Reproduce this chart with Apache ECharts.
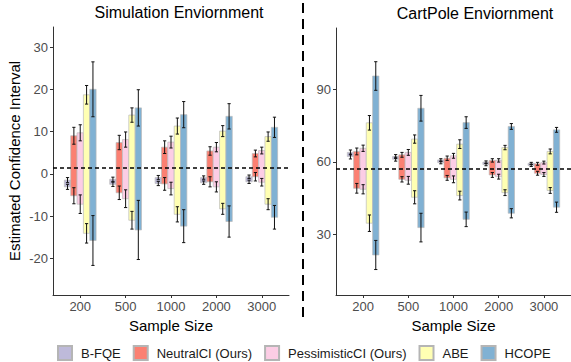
<!DOCTYPE html>
<html><head><meta charset="utf-8">
<script src="https://cdn.jsdelivr.net/npm/echarts@6/dist/echarts.min.js"></script>
<style>html,body{margin:0;padding:0;background:#fff}#c{width:571px;height:362px}</style>
</head><body><div id="c"></div>
<script>
const categories = ['200', '500', '1000', '2000', '3000'];
const methods = ['B-FQE', 'NeutralCI (Ours)', 'PessimisticCI (Ours)', 'ABE', 'HCOPE'];
const simTicks = [-20, -10, 0, 10, 20, 30];
const cartTicks = [30, 60, 90];
const simReference = 1.4;
const cartReference = 57.1;

// Each row: [lower bound, upper bound, error at lower bound, error at upper bound]
const simBFQE = [[-3.1, -1.5, 0.6, 0.6], [-2.5, -1.3, 0.5, 0.5], [-2.3, -0.9, 0.5, 0.5], [-2.1, -0.9, 0.4, 0.4], [-1.9, -0.7, 0.4, 0.4]];
const simNeutral = [[-5.2, 9.0, 1.9, 2.0], [-4.5, 7.4, 1.6, 1.7], [-2.4, 6.3, 1.5, 1.5], [-1.9, 5.4, 1.2, 1.0], [-0.7, 4.8, 1.0, 0.8]];
const simPessimistic = [[-7.2, 9.7, 2.2, 1.9], [-5.9, 8.1, 2.1, 1.8], [-3.5, 7.5, 1.5, 1.4], [-3.1, 6.3, 1.2, 1.1], [-2.0, 5.5, 0.9, 0.8]];
const simABE = [[-14.1, 18.7, 2.3, 2.2], [-11.0, 13.9, 2.1, 1.7], [-9.6, 11.3, 1.8, 1.9], [-8.3, 10.1, 1.3, 1.3], [-7.2, 8.8, 1.3, 1.1]];
const simHCOPE = [[-15.8, 20.0, 5.9, 6.5], [-13.3, 15.6, 7.0, 4.3], [-12.4, 14.0, 3.9, 3.1], [-11.3, 13.6, 3.7, 3.0], [-10.3, 11.0, 2.8, 2.4]];

const cartBFQE = [[62.2, 63.9, 1.0, 1.0], [61.1, 62.2, 0.8, 0.8], [59.7, 60.8, 0.5, 0.5], [58.9, 59.9, 0.5, 0.5], [58.5, 59.4, 0.4, 0.4]];
const cartNeutral = [[49.1, 64.3, 2.0, 1.4], [52.8, 62.9, 1.1, 1.0], [53.4, 61.5, 1.0, 0.9], [54.6, 60.6, 1.0, 0.7], [55.3, 59.2, 0.8, 0.6]];
const cartPessimistic = [[48.7, 65.6, 1.9, 1.3], [52.4, 63.9, 1.6, 1.2], [52.8, 62.5, 1.4, 1.0], [53.9, 60.6, 1.0, 0.7], [54.8, 59.7, 0.8, 0.6]];
const cartABE = [[34.7, 76.1, 3.4, 3.0], [45.4, 69.4, 2.7, 1.7], [46.1, 67.3, 1.8, 1.8], [47.3, 65.9, 1.2, 0.9], [48.2, 64.3, 1.2, 1.0]];
const cartHCOPE = [[21.6, 95.4, 6.0, 5.9], [32.9, 82.1, 5.9, 5.3], [36.3, 76.2, 3.0, 2.4], [38.8, 74.6, 1.9, 1.2], [41.3, 73.2, 2.1, 1.0]];

const colors = ['#BEBADA', '#FB8072', '#FCCDE5', '#FFFFB3', '#80B1D3'];
const FONT = 'Liberation Sans, Arial, sans-serif';

function renderFor(k) {
  return function (params, api) {
    const x = api.value(0), lo = api.value(1), hi = api.value(2), el = api.value(3), eh = api.value(4);
    const unit = api.size([1, 0])[0];
    const w = unit * 0.7 / 5;
    const base = api.coord([x, lo]);
    const cx = base[0] + (k - 2) * w;
    const yLo = base[1], yHi = api.coord([x, hi])[1];
    const cap = 1.6;
    const children = [{
      type: 'rect',
      shape: { x: cx - w / 2, y: yHi, width: w, height: yLo - yHi },
      style: { fill: api.visual('color'), stroke: 'rgba(185,185,185,0.85)', lineWidth: 0.8 }
    }];
    [[lo, el], [hi, eh]].forEach(function (p) {
      const a = api.coord([x, p[0] - p[1]])[1], b = api.coord([x, p[0] + p[1]])[1];
      const st = { stroke: '#111', lineWidth: 1 };
      children.push({ type: 'line', shape: { x1: cx, y1: a, x2: cx, y2: b }, style: st });
      children.push({ type: 'line', shape: { x1: cx - cap, y1: a, x2: cx + cap, y2: a }, style: st });
      children.push({ type: 'line', shape: { x1: cx - cap, y1: b, x2: cx + cap, y2: b }, style: st });
    });
    return { type: 'group', children: children };
  };
}

function toData(arr) { return arr.map(function (d, i) { return [i + 1, d[0], d[1], d[2], d[3]]; }); }

const simSets = [simBFQE, simNeutral, simPessimistic, simABE, simHCOPE];
const cartSets = [cartBFQE, cartNeutral, cartPessimistic, cartABE, cartHCOPE];

const series = [];
[simSets, cartSets].forEach(function (sets, g) {
  sets.forEach(function (arr, k) {
    series.push({
      type: 'custom', name: methods[k], xAxisIndex: g, yAxisIndex: g,
      renderItem: renderFor(k), data: toData(arr),
      encode: { x: 0, y: [1, 2] },
      itemStyle: { color: colors[k], borderColor: '#b5b5b5', borderWidth: 1 },
      silent: true
    });
  });
  series.push({
    type: 'line', xAxisIndex: g, yAxisIndex: g, data: [], z: 10, silent: true,
    markLine: {
      silent: true, symbol: 'none', label: { show: false },
      lineStyle: { type: [4, 3], color: '#000', width: 1.6 },
      data: [{ yAxis: g === 0 ? simReference : cartReference }]
    }
  });
});

function xAxisFor(g) {
  return {
    type: 'value', gridIndex: g, min: 0.4, max: 5.6,
    name: 'Sample Size', nameLocation: 'middle', nameGap: 22,
    nameTextStyle: { fontSize: 15, color: '#000', fontFamily: FONT },
    axisLine: { show: true, onZero: false, lineStyle: { color: '#333', width: 1 } },
    axisTick: { show: true, length: 3, lineStyle: { color: '#333' }, customValues: [1, 2, 3, 4, 5] },
    axisLabel: {
      customValues: [1, 2, 3, 4, 5], fontSize: 13, color: '#4D4D4D', fontFamily: FONT, margin: 5,
      formatter: function (v) { return categories[Math.round(v) - 1]; }
    },
    splitLine: { show: false }
  };
}
function yAxisFor(g, min, max, ticks, name) {
  return {
    type: 'value', gridIndex: g, min: min, max: max,
    name: name, nameLocation: 'middle', nameGap: 31,
    nameTextStyle: { fontSize: 15, color: '#000', fontFamily: FONT },
    axisLine: { show: true, onZero: false, lineStyle: { color: '#333', width: 1 } },
    axisTick: { show: true, length: 3, lineStyle: { color: '#333' }, customValues: ticks },
    axisLabel: { customValues: ticks, fontSize: 13, color: '#4D4D4D', fontFamily: FONT, margin: 5 },
    splitLine: { show: false }
  };
}

const chart = echarts.init(document.getElementById('c'), null, { renderer: 'svg' });
chart.setOption({
  animation: false,
  backgroundColor: '#fff',
  grid: [
    { left: 53, top: 27, width: 236, height: 268 },
    { left: 336, top: 28, width: 238, height: 267 }
  ],
  xAxis: [xAxisFor(0), xAxisFor(1)],
  yAxis: [
    yAxisFor(0, -28.7, 34.75, simTicks, 'Estimated Confidence Interval'),
    yAxisFor(1, 5.1, 115.2, cartTicks, '')
  ],
  legend: {
    data: methods, left: 52, top: 340, itemWidth: 14, itemHeight: 14, itemGap: 12,
    icon: 'rect', selectedMode: false,
    textStyle: { fontSize: 13, color: '#1a1a1a', fontFamily: FONT, padding: [0, 0, 0, 4] }
  },
  graphic: [
    { type: 'text', x: 179, y: 12, style: { text: 'Simulation Enviornment', fontSize: 16, fill: '#000', fontFamily: FONT, align: 'center', verticalAlign: 'middle' } },
    { type: 'text', x: 475, y: 13, style: { text: 'CartPole Enviornment', fontSize: 16, fill: '#000', fontFamily: FONT, align: 'center', verticalAlign: 'middle' } },
    { type: 'line', shape: { x1: 303, y1: 3, x2: 303, y2: 318 }, style: { stroke: '#000', lineWidth: 2, lineDash: [10, 6] }, silent: true }
  ],
  series: series
});
</script>
</body></html>
